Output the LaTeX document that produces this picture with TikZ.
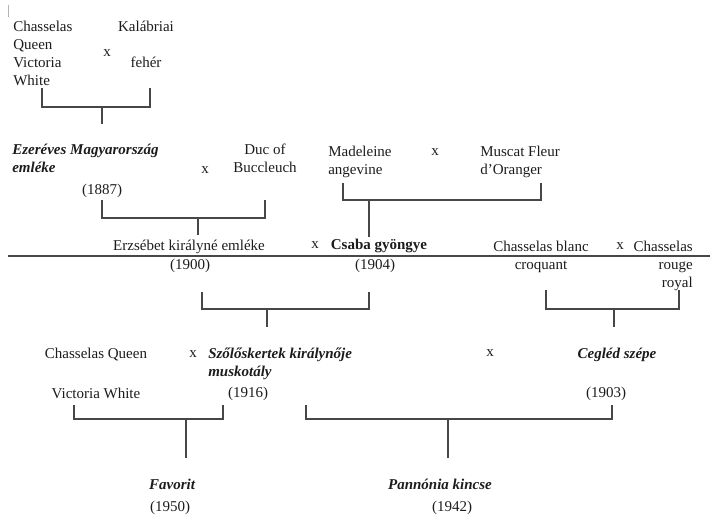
\documentclass[tikz,border=0pt]{standalone}
\usepackage{fontspec}
\setmainfont{Liberation Serif}
\definecolor{ink}{HTML}{1C1C1C}
\definecolor{wire}{HTML}{474747}
\definecolor{smear}{HTML}{B5B5B5}
\newcommand{\fsz}{\fontsize{11.25pt}{13.4pt}\selectfont}
\tikzset{
  lbl/.style={inner sep=0pt,text=ink,font=\fsz},
  cultivar/.style={lbl,font=\fsz\bfseries\itshape},
  boldname/.style={lbl,font=\fsz\bfseries},
  cross/.style={lbl,anchor=base},
  fork/.style={draw=wire,line width=0.8pt},
}

\begin{document}
\begin{tikzpicture}[x=0.75pt,y=-0.75pt]
\useasboundingbox (0,0) rectangle (710,515);

% stray mark top left
\coordinate (markA) at (8,5);
\coordinate (markB) at (8,17);
\draw[smear,line width=0.6pt] (markA) -- (markB);

% first cross (multi-line nodes sit on their last line)
\node[lbl,anchor=base west,align=left] (cqvw) at (13,85) {Chasselas\\Queen\\Victoria\\White};
\node[lbl,anchor=base,align=center] (kal) at (146,67) {Kalábriai\\[13.4pt]fehér};
\node[cross] (x1) at (107,56.5) {x};

% second row
\node[cultivar,anchor=base west,align=left] (ezer) at (12,172) {Ezeréves Magyarország\\emléke};
\node[lbl,anchor=base] (y1887) at (102,194) {(1887)};
\node[cross] (x2) at (205,173.5) {x};
\node[lbl,anchor=base,align=center] (duc) at (265,172) {Duc of\\Buccleuch};
\node[lbl,anchor=base west,align=left] (mad) at (328,174) {Madeleine\\angevine};
\node[cross] (x3) at (435,155.5) {x};
\node[lbl,anchor=base west,align=left] (musc) at (480,174) {Muscat Fleur\\d’Oranger};

% third row, on the rule
\node[lbl,anchor=base] (erzs) at (189,250) {Erzsébet királyné emléke};
\node[lbl,anchor=base] (y1900) at (190,269) {(1900)};
\node[cross] (x4) at (315,248.5) {x};
\node[boldname,anchor=base] (csaba) at (379,249) {Csaba gyöngye};
\node[lbl,anchor=base] (y1904) at (375,269) {(1904)};
\node[lbl,anchor=base,align=center] (chbl) at (541,269) {Chasselas blanc\\croquant};
\node[cross] (x5) at (620,249.5) {x};
\node[lbl,anchor=base east,align=right] (chro) at (693,287) {Chasselas\\rouge\\royal};

% fourth row
\node[lbl,anchor=base,align=center] (cq2) at (96,398) {Chasselas Queen\\[16pt]Victoria White};
\node[cross] (x6) at (193,357.5) {x};
\node[cultivar,anchor=base west,align=left] (szol) at (208,376) {Szőlőskertek királynője\\muskotály};
\node[lbl,anchor=base] (y1916) at (248,397) {(1916)};
\node[cross] (x7) at (490,356.5) {x};
\node[cultivar,anchor=base] (cegl) at (617,358) {Cegléd szépe};
\node[lbl,anchor=base] (y1903) at (606,397) {(1903)};

% offspring
\node[cultivar,anchor=base] (fav) at (172,489) {Favorit};
\node[lbl,anchor=base] (y1950) at (170,511) {(1950)};
\node[cultivar,anchor=base] (pann) at (440,489) {Pannónia kincse};
\node[lbl,anchor=base] (y1942) at (452,511) {(1942)};

% the rule
\coordinate (ruleA) at (8,256);
\coordinate (ruleB) at (710,256);
\draw[fork] (ruleA) -- (ruleB);

% brackets: left x / right x / top y / bar y / stem x / stem end y
\foreach \n/\xl/\xr/\yt/\yb/\xs/\ys in {
  1/42/150/88/107/102/124,
  2/102/265/200/218/198/235,
  3/343/541/183/200/369/237,
  4/202/369/292/309/267/327,
  5/546/679/290/309/614/327,
  6/74/223/405/419/186/458,
  7/306/612/405/419/448/458}{
  \coordinate (fl\n) at (\xl,\yt);
  \coordinate (fr\n) at (\xr,\yt);
  \coordinate (fm\n) at (\xs,\yb);
  \coordinate (fs\n) at (\xs,\ys);
  \draw[fork] (fl\n) |- (fm\n) -| (fr\n);
  \draw[fork] (fm\n) -- (fs\n);
}
\end{tikzpicture}
\end{document}
